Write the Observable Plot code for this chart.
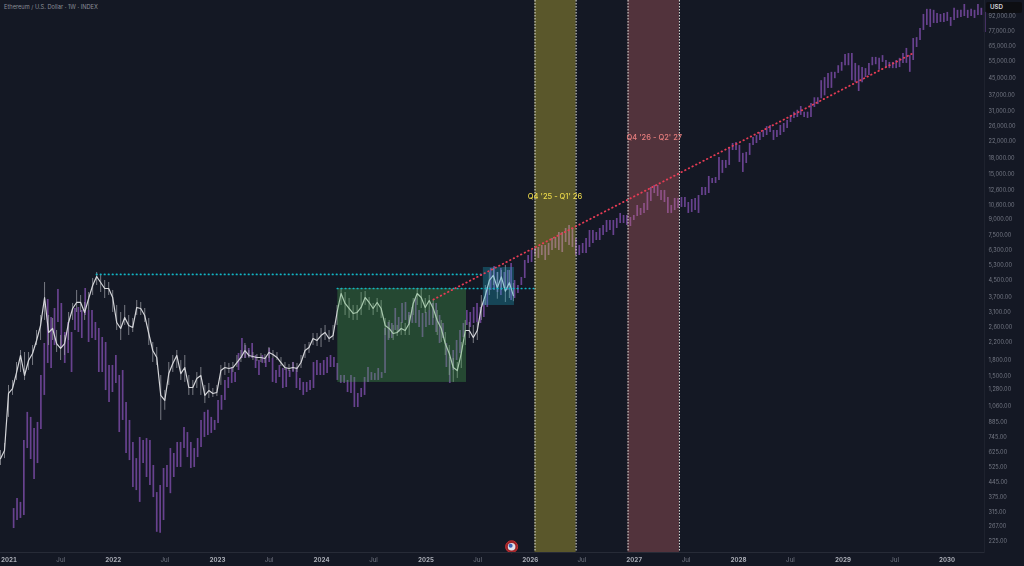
<!DOCTYPE html>
<html>
<head>
<meta charset="utf-8">
<script src="https://cdn.jsdelivr.net/npm/d3@7"></script>
<script src="https://cdn.jsdelivr.net/npm/@observablehq/plot@0.6"></script>
<style>
html,body{margin:0;padding:0;background:#141824;}
#wrap{position:relative;width:1024px;height:566px;overflow:hidden;font-family:Inter,"Noto Sans",sans-serif;}
#chart svg{filter:blur(0.25px);}
#title{position:absolute;left:4px;top:3px;font-size:5.7px;line-height:8px;color:#8b8e98;}
#usd{position:absolute;left:986px;top:2px;width:36px;height:10.5px;background:#0d0e12;border-radius:2px;color:#d5d6da;font-size:6.2px;font-weight:600;line-height:10.5px;text-indent:4px;}
</style>
</head>
<body>
<div id="wrap">
<div id="chart"></div>
<div id="title">Ethereum / U.S. Dollar · 1W · INDEX</div>
<div id="usd">USD</div>
</div>
<script>
const priceTicks = [92000,77000,65000,55000,45000,37000,31000,26000,22000,18000,15000,12600,10600,9000,7500,6300,5300,4500,3700,3100,2600,2200,1800,1500,1280,1060,885,745,625,525,445,375,315,267,225];
const yearTicks = ["2021","2022","2023","2024","2025","2026","2027","2028","2029","2030"].map(y=>new Date(y+"-01-01"));
const julTicks = ["2021","2022","2023","2024","2025","2026","2027","2028","2029"].map(y=>new Date(y+"-07-01"));

const purpleStart = new Date("2021-01-17");
const purpleStepDays = 11.94;
const purpleHigh = [328,368,352,715,986,931,820,879,1504,2169,3588,2922,3238,4025,3429,2460,2759,2460,3238,3276,3165,4071,3165,3165,2759,2576,2323,2194,1687,1687,1891,1504,1592,1104,899,699,581,740,715,731,715,537,394,427,519,537,652,616,699,699,830,783,699,652,731,899,986,1010,931,899,1130,1197,1421,1470,1648,1556,1935,2297,2119,2049,2169,1891,1785,1891,1848,2049,1827,1592,1687,1629,1629,1592,1745,1648,1454,1389,1389,1421,1745,1785,1726,1785,1848,1891,1848,1726,
1504,1504,1421,1504,1470,1224,1296,1470,1648,1556,1538,1629,1556,2576,2759,2728,3238,2922,3429,3469,3093,3276,3630,3165,3058,3093,3165,3429,3429,2988,2728,2169,1848,2002,2245,2517,2728,3165,3093,3276,3429,3276,3547,4119,
5117,5236,4890,5117,4890,5001,5419,4461,4212,4617,5609,5938,6288,6434,6508,6659,6659,6814,7214,7297,7728,7728,8090,8370,8090,7214,6659,6814,7214,7907,7907,7728,8090,8370,8865,8865,8865,9070,9606,9388,
9388,9175,9388,10520,10170,10770,12210,12930,13240,13240,12500,12500,11530,10520,11400,11400,11530,11530,10890,11270,11400,11800,12930,12930,14670,14340,14500,18240,17620,17620,20440,
21400,21650,20920,19100,19320,21400,22920,23450,24270,24830,25950,26300,24830,24830,26300,26900,27840,29500,30600,31300,32680,30600,30600,33800,36100,36100,43900,45500,47700,48300,48300,52100,54100,59200,59900,59900,53500,52100,51000,50400,53500,57300,57300,56700,58500,55300,54100,54100,55300,56700,59900,63500,58500,71100,71900,79800,93700,99300,99300,98200,94800,93700,94800,95900,90500,100500,98200,98200,105000,98200,99300,98200,105000,100500,95900];
const purpleLow = [261,286,293,303,652,575,457,549,811,1197,1726,1629,2119,2759,2049,1726,1935,1556,2517,2460,2297,2988,2194,2297,2245,1556,1556,1266,1104,1238,1373,783,899,616,568,417,403,352,549,468,427,372,250,247,286,417,389,468,525,525,652,588,519,525,588,660,740,757,775,802,869,1010,1130,1296,1373,1389,1592,1827,1827,1848,1827,1629,1504,1726,1648,1745,1389,1373,1470,1296,1311,1470,1556,1296,1266,1197,1238,1266,1296,1504,1504,1504,1538,1648,1648,1421,
1373,1373,1238,1224,1043,1043,1169,1197,1389,1421,1421,1421,1454,1538,2245,2297,2517,2460,2728,2823,2666,2728,2728,2605,2323,2605,2666,2666,2460,2169,2297,1648,1373,1592,1785,1935,2323,2666,2605,2728,2759,2728,2922,3276,
3979,3979,3888,3757,4071,3979,3547,3630,3844,4212,4565,5419,5482,5938,5739,5938,5609,5938,6288,6434,6288,6145,6892,6659,6508,5938,5938,6075,6075,6508,6814,7050,7050,7467,7728,7907,7467,8090,8565,8565,
8370,8275,8865,9281,9388,9606,9938,11020,12070,11665,11140,10890,9606,9606,9938,10170,10290,10290,9606,9717,9938,9606,11800,11800,12070,13540,13540,14010,15190,16090,16640,
19750,19750,17220,15360,17020,18660,20920,21400,22150,22920,23450,24270,22150,22920,23450,24270,25400,27200,28500,28800,29500,28800,28500,28800,32300,33400,35700,36900,40200,40200,44900,47700,48900,52100,52100,43900,42900,38800,42900,45500,46600,52100,52700,49500,54100,51000,50400,50400,50400,51000,53500,53500,48300,55300,64200,69500,78000,82600,80700,84500,84500,85500,85500,86500,81700,87500,89500,90500,91500,89500,91500,89500,92600,92600,76200];

const whiteStart = new Date("2020-12-02");
const whiteStepDays = 14.04;
const whiteClose = [581,637,1224,1296,1556,1891,1504,1785,1935,2245,2666,3672,2460,2576,2169,2049,2169,2759,3238,3469,3469,3093,3630,4212,4671,4360,4071,4071,3672,2759,2576,2922,2666,2605,3276,3238,2988,2432,2002,1848,1197,1130,1538,1726,1891,1538,1648,1311,1311,1454,1504,1197,1266,1224,1238,1592,1648,1629,1648,1745,1848,2002,1891,1869,1848,1848,1827,1957,1913,1848,1745,1648,1629,1648,1629,1745,2002,2072,2297,2245,2377,2460,2297,2377,3093,3844,3429,3238,3058,3093,3276,3672,3469,3238,3469,3238,2666,2576,2432,2460,2576,2517,2728,3429,3844,3672,3276,3547,3238,2823,2576,2169,1935,1648,1592,1935,2517,2517,2323,2517,3276,3757,4461,4725,4100,4650,3950,4350,3750];
const whiteHigh = [637,691,1342,1421,1745,2002,1957,1957,2119,2517,2988,4360,2988,2889,2517,2377,2377,3093,3429,3979,3757,3469,3888,4565,4890,4725,4461,4360,3979,3352,3093,3352,2988,2889,3547,3469,3238,2889,2194,2072,1504,1266,1745,1891,2002,1785,1891,1504,1421,1556,1648,1342,1373,1296,1342,1687,1745,1726,1745,1891,2002,2169,2002,1957,1913,1935,1913,2072,2002,1957,1848,1745,1706,1745,1726,1891,2144,2194,2432,2432,2576,2666,2517,2666,3352,4071,3888,3630,3352,3352,3888,3933,3672,3429,3630,3547,2889,2823,2666,2666,2759,2728,2988,3630,4071,4071,3630,3757,3547,3165,2823,2460,2119,1827,1745,2194,2823,2759,2666,2759,3757,4212,4890,5117,4890,5001,5296,5001,4310];
const whiteLow = [537,581,931,1197,1421,1556,1421,1592,1687,2119,2245,2823,2119,2245,1957,1785,1891,2245,2823,3093,3093,2823,3165,3757,4212,3888,3630,3757,3093,2517,2245,2666,2377,2460,2988,2988,2759,2119,1745,1687,899,1010,1342,1556,1629,1421,1389,1197,1197,1296,1197,1091,1156,1169,1182,1342,1504,1538,1556,1648,1745,1827,1827,1785,1765,1745,1726,1827,1827,1785,1667,1592,1574,1574,1556,1629,1827,1935,2119,2095,2072,2245,2194,2245,2666,3352,2988,2889,2823,2823,2988,3352,3165,2988,3093,2889,2377,2297,2245,2350,2377,2377,2377,2988,3352,3238,3058,3165,2889,2377,2194,1891,1504,1389,1454,1629,2119,2297,2169,2245,2823,3352,3757,4212,3600,3979,3469,3630,3500];

const bandX1 = [new Date("2026-01-18"), new Date("2026-12-10")];
const bandX2 = [new Date("2026-06-11"), new Date("2027-06-08")];
const bandFills = ["#ffeb3b", "#e57373"];
const bandLabels = ["Q4 '25 - Q1' 26", "Q4 '26 - Q2' 27"];
const bandLabelX = [new Date("2026-03-29"), new Date("2027-03-12")];
const bandLabelPrice = [11665, 22920];

const greenBox = {x1:new Date("2024-02-27"), x2:new Date("2025-05-23"), y1:1389, y2:4071};
const blueBox = {x1:new Date("2025-07-21"), x2:new Date("2025-11-07"), y1:3352, y2:5176};

const levelPrices = [4780, 4071];
const levelStart = [new Date("2021-11-05"), new Date("2024-02-27")];
const levelEnd = [new Date("2025-07-21"), new Date("2026-01-15")];

const trendDates = [new Date("2025-01-27"), new Date("2029-09-02")];
const trendPrices = [3588, 59950];

const eventDate = new Date("2025-10-28");
const eventPrice = 212;

const day = 86400000;
const purpleDates = purpleHigh.map((_, i) => new Date(+purpleStart + i * purpleStepDays * day));
const whiteDates = whiteClose.map((_, i) => new Date(+whiteStart + i * whiteStepDays * day));
const pIdx = d3.range(purpleHigh.length);
const wIdx = d3.range(whiteClose.length);
const bIdx = [0, 1];

const tickFill = "#757985";
const priceFormat = d3.format(",.2f");

const chart = Plot.plot({
  width: 1024, height: 566,
  marginLeft: 0, marginRight: 40, marginTop: 0, marginBottom: 14,
  style: {background: "#141824", fontFamily: "Inter, 'Noto Sans', sans-serif"},
  x: {type: "utc", domain: [new Date("2020-12-02"), new Date("2030-05-12")]},
  y: {type: "log", domain: [198.4, 109900], axis: null},
  marks: [
    Plot.ruleX(pIdx, {x: i => purpleDates[i], y1: i => purpleLow[i], y2: i => purpleHigh[i], stroke: "#68428f", strokeWidth: 1.7}),
    Plot.ruleX(wIdx, {x: i => whiteDates[i], y1: i => whiteLow[i], y2: i => whiteHigh[i], stroke: "#a2a4ab", strokeWidth: 1, strokeOpacity: 0.7}),
    Plot.line(wIdx, {x: i => whiteDates[i], y: i => whiteClose[i], stroke: "#d4d5d9", strokeWidth: 1.2}),
    Plot.rect(bIdx, {x1: i => bandX1[i], x2: i => bandX2[i], fill: i => bandFills[i], fillOpacity: 0.3}),
    Plot.ruleX(bandX1, {stroke: "#e4e4e0", strokeWidth: 1, strokeDasharray: "1.5 1.5"}),
    Plot.ruleX(bandX2, {stroke: "#e4e4e0", strokeWidth: 1, strokeDasharray: "1.5 1.5"}),
    Plot.rect([greenBox], {x1: "x1", x2: "x2", y1: "y1", y2: "y2", fill: "#4caf50", fillOpacity: 0.32}),
    Plot.rect([blueBox], {x1: "x1", x2: "x2", y1: "y1", y2: "y2", fill: "#1fb0cc", fillOpacity: 0.3}),
    Plot.ruleY(bIdx, {y: i => levelPrices[i], x1: i => levelStart[i], x2: i => levelEnd[i], stroke: "#12b5c4", strokeWidth: 1.7, strokeDasharray: "0.5 3.5", strokeLinecap: "round"}),
    Plot.line(bIdx, {x: i => trendDates[i], y: i => trendPrices[i], stroke: "#e63c55", strokeWidth: 1.8, strokeDasharray: "0.5 3.6", strokeLinecap: "round"}),
    Plot.text(bIdx, {x: i => bandLabelX[i], y: i => bandLabelPrice[i], text: i => bandLabels[i], fill: i => ["#ecd94a", "#ea7f7f"][i], fontSize: 7.5, fontWeight: 500}),
    Plot.dot([0], {x: () => eventDate, y: () => eventPrice, r: 6, fill: "#9c2428", stroke: "#c22f33", strokeWidth: 1}),
    Plot.dot([0], {x: () => eventDate, y: () => eventPrice, r: 3.8, fill: "#e0e0ea"}),
    Plot.dot([0], {x: () => eventDate, y: () => eventPrice, r: 2, dx: -1, dy: -1, fill: "#3a62b5"}),
    Plot.frame({anchor: "bottom", stroke: "#272b37"}),
    Plot.frame({anchor: "right", stroke: "#1e222e"}),
    Plot.text(priceTicks, {y: d => d, frameAnchor: "right", dx: 4, textAnchor: "start", text: d => priceFormat(d), fontSize: 5.6, fill: tickFill}),
    Plot.axisX({anchor: "bottom", ticks: yearTicks, tickSize: 0, tickPadding: 5, tickFormat: d3.utcFormat("%Y"), label: null, fontSize: 6.2, fontWeight: 700, fill: "#a9acb5"}),
    Plot.axisX({anchor: "bottom", ticks: julTicks, tickSize: 0, tickPadding: 5, tickFormat: () => "Jul", label: null, fontSize: 6.2, fill: tickFill})
  ]
});
document.getElementById("chart").appendChild(chart);
</script>
</body>
</html>
